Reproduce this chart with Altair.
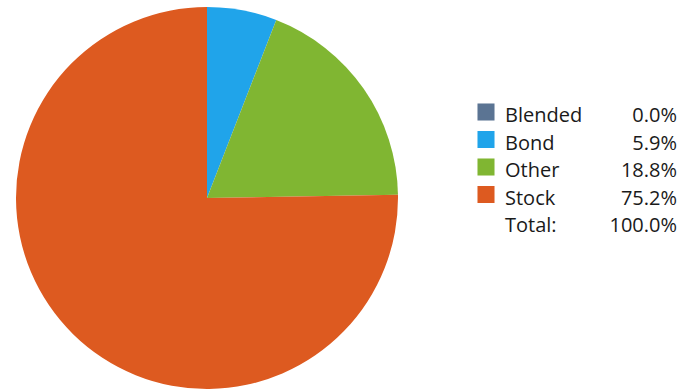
import altair as alt
import pandas as pd

categories = ["Blended", "Bond", "Other", "Stock"]
percents = [0.0, 5.9, 18.8, 75.2]
colors = ["#5b7493", "#20a4ea", "#80b632", "#dd5a20"]
total_label = "Total:"
total_value = 100.0

pie_df = pd.DataFrame({"cat": categories, "pct": percents, "ord": list(range(len(categories)))})

leg_labels = categories + [total_label]
leg_values = [f"{p:.1f}%" for p in percents] + [f"{total_value:.1f}%"]
leg_df = pd.DataFrame({
    "label": leg_labels,
    "value": leg_values,
    "row": list(range(len(leg_labels))),
    "cat": categories + [""],
})

color_scale = alt.Scale(domain=categories, range=colors)

pie = alt.Chart(pie_df).mark_arc(radius=191, stroke=None).encode(
    theta=alt.Theta("pct:Q", stack=True),
    order=alt.Order("ord:Q"),
    color=alt.Color("cat:N", scale=color_scale, legend=None),
    x=alt.value(207),
    y=alt.value(198),
)

yscale = alt.Scale(domain=[0, 4], range=[112, 222])

squares = alt.Chart(leg_df[leg_df["cat"] != ""]).mark_square(size=290, opacity=1).encode(
    x=alt.value(486),
    y=alt.Y("row:Q", scale=yscale, axis=None),
    color=alt.Color("cat:N", scale=color_scale, legend=None),
)

text_common = dict(font="Open Sans", fontSize=20, color="#1a1a1a", baseline="middle", dy=4)

labels = alt.Chart(leg_df).mark_text(align="left", **text_common).encode(
    x=alt.value(505),
    y=alt.Y("row:Q", scale=yscale, axis=None),
    text="label:N",
)

values = alt.Chart(leg_df).mark_text(align="right", **text_common).encode(
    x=alt.value(677),
    y=alt.Y("row:Q", scale=yscale, axis=None),
    text="value:N",
)

chart = alt.layer(pie, squares, labels, values).properties(
    width=683, height=390, autosize="none", padding=0
).configure_view(stroke=None)

chart.save("out.html", embed_options={"renderer": "svg", "actions": False})
